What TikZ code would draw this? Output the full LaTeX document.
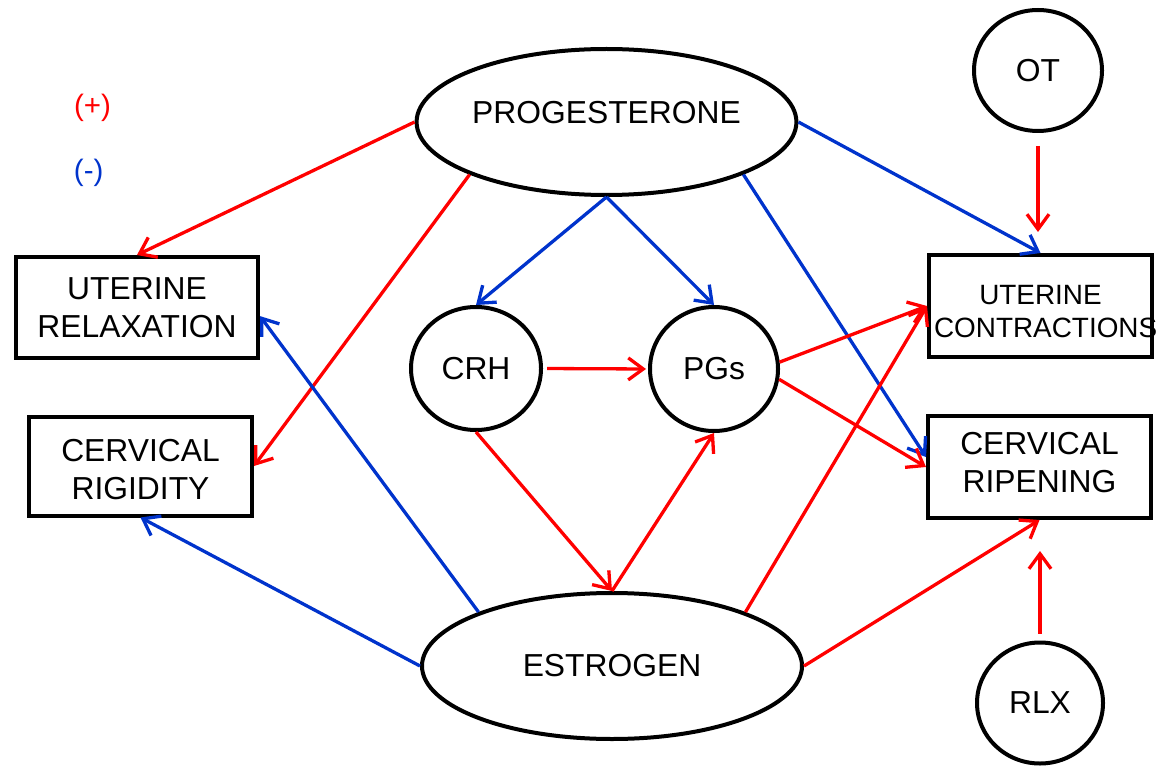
\documentclass[tikz,border=0pt]{standalone}
\usepackage{fontspec}
\setmainfont{Liberation Sans}
\usetikzlibrary{arrows.meta,shapes.geometric}
\definecolor{posred}{RGB}{255,0,0}
\definecolor{negblue}{RGB}{0,51,204}
\begin{document}
\begin{tikzpicture}[x=1pt,y=-1pt,
  every node/.style={font=\fontsize{31.8}{38}\selectfont},
  hormone/.style={ellipse, draw, line width=4pt, fill=white, inner sep=0pt},
  effect/.style={rectangle, draw, line width=4pt, fill=white, align=center, inner sep=0pt},
  link/.style={line width=3.3pt, -{Straight Barb[length=15pt,width=22pt]}},
  promote/.style={link, draw=posred},
  inhibit/.style={link, draw=negblue}]
\useasboundingbox (0,0) rectangle (1158,767);

% legend
\node[text=posred, font=\fontsize{29.5}{34}\selectfont] (plus) at (92.5,107.5) {(+)};
\node[text=negblue, font=\fontsize{29.5}{34}\selectfont] (minus) at (88.7,173) {(-)};

% hormones
\node[hormone, minimum width=379pt, minimum height=146pt, text height=23pt, text depth=20pt] (prog) at (606.5,122) {PROGESTERONE};
\node[hormone, minimum width=380pt, minimum height=146pt] (est) at (612,666) {ESTROGEN};
\node[hormone, minimum width=128pt, minimum height=121pt] (ot) at (1038,70.5) {OT};
\node[hormone, minimum width=126pt, minimum height=121pt] (rlx) at (1040,703) {RLX};
\node[hormone, minimum width=130pt, minimum height=123pt] (crh) at (476,368.5) {CRH};
\node[hormone, minimum width=128pt, minimum height=124pt] (pgs) at (714,369) {PGs};

% effects
\node[effect, minimum width=242pt, minimum height=101pt] (ur) at (137,307.5) {UTERINE\\RELAXATION};
\node[effect, minimum width=223pt, minimum height=99pt] (crig) at (140.5,466) {\rule{0pt}{29pt}CERVICAL\\RIGIDITY};
\node[effect, minimum width=223pt, minimum height=102pt, text width=213pt, inner xsep=5pt,
      font=\fontsize{27.9}{33}\selectfont] (uc) at (1040.5,306) {\rule{0pt}{30pt}UTERINE\\CONTRACTIONS};
\node[effect, minimum width=223pt, minimum height=102pt] (cr) at (1039.5,467) {CERVICAL\\RIPENING\rule[-10pt]{0pt}{10pt}};

% progesterone actions
\draw[promote] (prog.180) -- (ur.north);
\draw[promote] (prog.201) -- (crig.east);
\draw[inhibit] (prog.south) -- (crh.north);
\draw[inhibit] (prog.south) -- (pgs.north);
\draw[inhibit] (prog.east) -- (uc.north);
\draw[inhibit] (prog.339) -- (cr.175);

% oxytocin and relaxin
\draw[promote, shorten <=13pt, shorten >=21pt] (ot.south) -- (ot.south |- uc.north);
\draw[promote, shorten <=7pt, shorten >=31pt] (rlx.north) -- (rlx.north |- cr.south);

% CRH, prostaglandins
\draw[promote, shorten <=4pt, shorten >=2pt] (crh.east) -- (pgs.west);
\draw[promote] (crh.south) -- (est.north);
\draw[promote] (pgs.6) -- (uc.west);
\draw[promote] (pgs.351) -- (cr.west);

% estrogen actions
\draw[promote] (est.north) -- (pgs.south);
\draw[promote] (est.22) -- (uc.west);
\draw[promote] (est.east) -- (cr.south);
\draw[inhibit] (est.158) -- (ur.356);
\draw[inhibit] (est.west) -- (crig.south);
\end{tikzpicture}
\end{document}
